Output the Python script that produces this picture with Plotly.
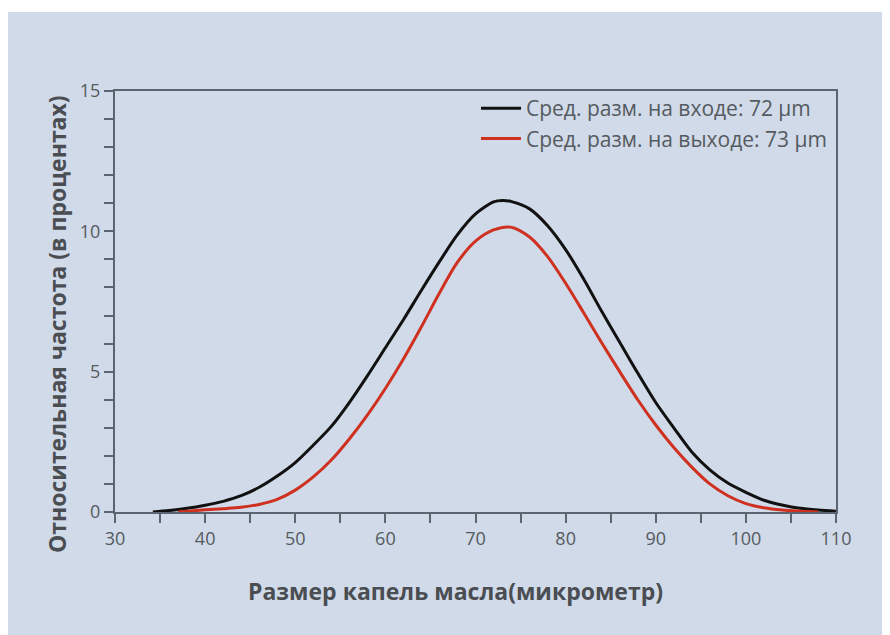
import plotly.graph_objects as go

# Data
x_in = [34.2, 36, 38, 40, 42, 44, 46, 48, 50, 52, 54, 56, 58, 60, 62, 64, 66, 68, 70, 72, 73, 74, 76, 78, 80,
        82, 84, 86, 88, 90, 92, 94, 96, 98, 100, 102, 104, 106, 108, 110]
y_in = [0.0, 0.05, 0.13, 0.24, 0.38, 0.58, 0.88, 1.28, 1.76, 2.38, 3.05, 3.9, 4.85, 5.85, 6.85, 7.9, 8.92, 9.88,
        10.62, 11.05, 11.1, 11.06, 10.8, 10.2, 9.35, 8.3, 7.15, 6.05, 4.95, 3.9, 3.0, 2.14, 1.5, 1.03, 0.7, 0.42,
        0.25, 0.13, 0.07, 0.03]

x_out = [37, 38, 40, 42, 44, 46, 48, 50, 52, 54, 56, 58, 60, 62, 64, 66, 68, 70, 72, 73.9, 76, 78, 80, 82, 84,
         86, 88, 90, 92, 94, 96, 98, 100, 102, 104, 106, 108]
y_out = [0.0, 0.03, 0.08, 0.12, 0.17, 0.27, 0.45, 0.78, 1.25, 1.85, 2.6, 3.45, 4.4, 5.45, 6.6, 7.8, 8.9, 9.65,
         10.05, 10.15, 9.8, 9.1, 8.15, 7.1, 6.03, 5.0, 4.0, 3.1, 2.3, 1.6, 1.0, 0.58, 0.3, 0.15, 0.07, 0.03, 0.0]

series_names = ["Сред. разм. на входе: 72 µm", "Сред. разм. на выходе: 73 µm"]
x_title = "Размер капель масла(микрометр)"
y_title = "Относительная частота (в процентах)"
x_ticks = [30, 40, 50, 60, 70, 80, 90, 100, 110]
y_ticks = [0, 5, 10, 15]

FONT = "Open Sans, Noto Sans, sans-serif"
AXIS = "#5b6570"
TXT = "#555a60"
TITLE = "#4a4d52"
BG = "#d0dae8"

fig = go.Figure()
fig.add_trace(go.Scatter(x=x_in, y=y_in, mode="lines", name=series_names[0],
                         line=dict(color="#111111", width=3, shape="spline", smoothing=0.8)))
fig.add_trace(go.Scatter(x=x_out, y=y_out, mode="lines", name=series_names[1],
                         line=dict(color="#cf3020", width=3, shape="spline", smoothing=0.8)))

OFF = 8  # page body margin
W, H = 882, 627
L, R, T, B = 115 - OFF, 54, 91 - OFF, 123
pw, ph = W - L - R, H - T - B


def px(xp):
    return (xp - OFF - L) / pw


def py(yp):
    return (H - B - (yp - OFF)) / ph


fig.add_shape(type="rect", xref="paper", yref="paper", x0=px(8), x1=px(900), y0=py(650), y1=py(12),
              fillcolor=BG, line=dict(width=0), layer="below")

fig.update_layout(
    width=W, height=H,
    margin=dict(l=L, r=R, t=T, b=B),
    paper_bgcolor="white", plot_bgcolor="rgba(0,0,0,0)",
    font=dict(family=FONT, color=TXT, size=17),
    showlegend=True,
    legend=dict(x=px(832), xanchor="right", y=py(88), yanchor="top", bgcolor="rgba(0,0,0,0)",
                font=dict(family=FONT, size=21, color=TXT), tracegroupgap=0, itemwidth=40),
    xaxis=dict(range=[30, 110], tickvals=x_ticks, ticks="outside", ticklen=9, tickwidth=2, tickcolor=AXIS,
               showline=True, linecolor=AXIS, linewidth=2, mirror=True, showgrid=False, zeroline=False,
               tickfont=dict(family=FONT, size=18, color=TXT),
               minor=dict(dtick=5, tick0=30, ticks="outside", ticklen=9, tickwidth=2, tickcolor=AXIS, showgrid=False)),
    yaxis=dict(range=[0, 15], tickvals=y_ticks, ticks="outside", ticklen=9, tickwidth=2, tickcolor=AXIS,
               showline=True, linecolor=AXIS, linewidth=2, mirror=True, showgrid=False, zeroline=False,
               tickfont=dict(family=FONT, size=18, color=TXT),
               minor=dict(dtick=1, tick0=0, ticks="outside", ticklen=9, tickwidth=2, tickcolor=AXIS, showgrid=False)),
    annotations=[
        dict(text="<b>" + x_title + "</b>", xref="paper", yref="paper", x=px(455), y=py(591),
             xanchor="center", yanchor="middle", showarrow=False,
             font=dict(family=FONT, size=23, color=TITLE)),
        dict(text="<b>" + y_title + "</b>", xref="paper", yref="paper", x=px(57), y=py(324),
             xanchor="center", yanchor="middle", showarrow=False, textangle=-90,
             font=dict(family=FONT, size=23, color=TITLE)),
    ],
)

fig.write_html("out.html")
